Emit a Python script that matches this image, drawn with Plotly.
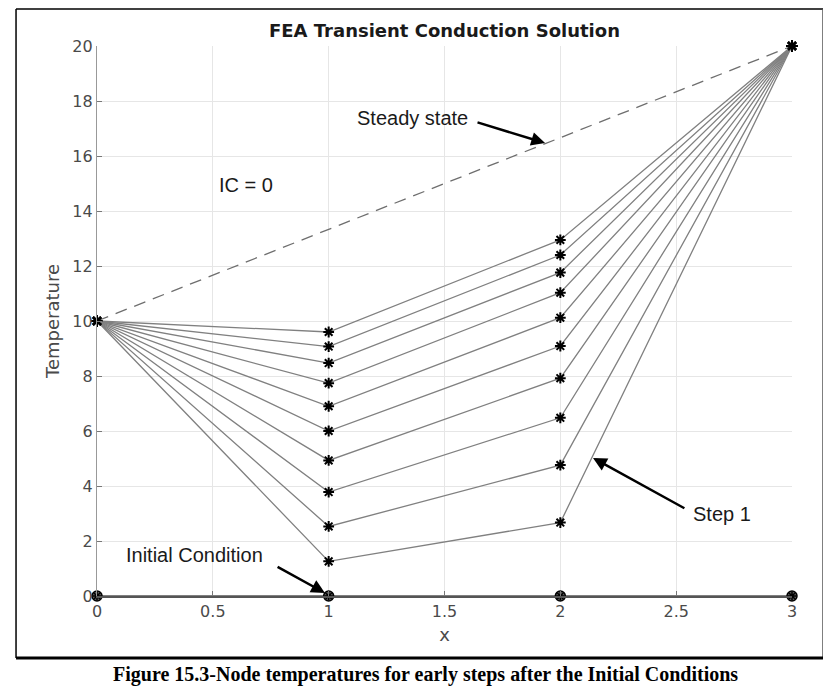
import plotly.graph_objects as go

# ---- data ----
x_nodes = [0, 1, 2, 3]
left_bc = 10
right_bc = 20
node1_steps = [1.26, 2.53, 3.78, 4.93, 6.0, 6.9, 7.74, 8.47, 9.07, 9.6]
node2_steps = [2.67, 4.76, 6.48, 7.92, 9.09, 10.12, 11.03, 11.76, 12.4, 12.95]
initial_condition = [0, 0, 0, 0]
steady_state = [10, 20]
steady_x = [0, 3]
x_ticks = [0, 0.5, 1, 1.5, 2, 2.5, 3]
x_tick_labels = ["0", "0.5", "1", "1.5", "2", "2.5", "3"]
y_ticks = [0, 2, 4, 6, 8, 10, 12, 14, 16, 18, 20]

fig = go.Figure()

# steady state dashed
fig.add_trace(go.Scatter(x=steady_x, y=steady_state, mode="lines",
                         line=dict(color="#6e6e6e", width=1.3, dash="12px,8px"),
                         showlegend=False, hoverinfo="skip", cliponaxis=False))

# steps
for a, b in zip(node1_steps, node2_steps):
    fig.add_trace(go.Scatter(x=x_nodes, y=[left_bc, a, b, right_bc], mode="lines+markers",
                             line=dict(color="#808080", width=1.3),
                             marker=dict(symbol="asterisk-open", size=9, color="black",
                                         line=dict(color="black", width=2)),
                             showlegend=False, cliponaxis=False))

# initial condition
fig.add_trace(go.Scatter(x=x_nodes, y=initial_condition, mode="lines+markers",
                         line=dict(color="#555555", width=1.5),
                         marker=dict(symbol="circle", size=10, color="#5a5a5a",
                                     line=dict(color="black", width=1.5)),
                         showlegend=False, cliponaxis=False))
fig.add_trace(go.Scatter(x=x_nodes, y=initial_condition, mode="markers",
                         marker=dict(symbol="asterisk-open", size=7, color="black",
                                     line=dict(color="black", width=1.5)),
                         showlegend=False, cliponaxis=False))

ann_font = dict(family="Liberation Sans, Arial", size=20, color="#1a1a1a")
annotations = [
    dict(x=1.36, y=17.38, text="Steady state", showarrow=False, font=ann_font),
    dict(x=0.643, y=14.95, text="IC = 0", showarrow=False, font=ann_font),
    dict(x=0.419, y=1.49, text="Initial Condition", showarrow=False, font=ann_font),
    dict(x=2.698, y=2.98, text="Step 1", showarrow=False, font=ann_font),
]
arrows = [((1.934, 16.47), (1.636, 17.24)),
          ((0.984, 0.11), (0.773, 1.09)),
          ((2.141, 5.02), (2.542, 3.16))]
for (hx, hy), (tx, ty) in arrows:
    annotations.append(dict(x=hx, y=hy, ax=tx, ay=ty, xref="x", yref="y",
                            axref="x", ayref="y", text="", showarrow=True,
                            arrowhead=2, arrowsize=1.1, arrowwidth=2.5,
                            arrowcolor="black"))

annotations.append(dict(x=0.472, y=-0.1436, xref="paper", yref="paper",
                        xanchor="center", yanchor="middle",
                        text="<b>Figure 15.3-Node temperatures for early steps after the Initial Conditions</b>",
                        showarrow=False,
                        font=dict(family="Liberation Serif, Times New Roman", size=20, color="black")))

X0, X1 = -0.1165, 1.0446
Y0, Y1 = -0.1127, 1.0673
shapes = [
    dict(type="line", xref="paper", yref="paper", x0=X0, x1=X0, y0=Y0, y1=Y1,
         line=dict(color="black", width=1.5)),
    dict(type="line", xref="paper", yref="paper", x0=X0, x1=X1, y0=Y1, y1=Y1,
         line=dict(color="black", width=1.5)),
    dict(type="line", xref="paper", yref="paper", x0=X1, x1=X1, y0=Y0, y1=Y1,
         line=dict(color="#555555", width=1.5)),
    dict(type="line", xref="paper", yref="paper", x0=X0, x1=X1, y0=Y0, y1=Y0,
         line=dict(color="black", width=3)),
]

axis_font = dict(family="DejaVu Sans", size=16, color="#4a4a4a")
fig.update_layout(
    width=823, height=682,
    margin=dict(l=89, r=39, t=38, b=94),
    paper_bgcolor="white", plot_bgcolor="white",
    title=dict(text="<b>FEA Transient Conduction Solution</b>", x=0.5, xref="paper",
               y=1 - 23 / 682, yanchor="middle",
               font=dict(family="DejaVu Sans", size=18, color="#1a1a1a")),
    xaxis=dict(range=[0, 3], tickvals=x_ticks, ticktext=x_tick_labels,
               showgrid=True, gridcolor="#e6e6e6", gridwidth=1,
               zeroline=False, showline=True, linecolor="#555555", linewidth=1.5,
               ticks="inside", ticklen=5, tickcolor="#777777",
               tickfont=axis_font,
               title=dict(text="x", font=dict(family="DejaVu Sans", size=18, color="#4a4a4a"),
                          standoff=8)),
    yaxis=dict(range=[0, 20], tickvals=y_ticks,
               showgrid=True, gridcolor="#e6e6e6", gridwidth=1,
               zeroline=False, showline=True, linecolor="#999999", linewidth=1.2,
               ticks="inside", ticklen=5, tickcolor="#777777",
               tickfont=axis_font,
               title=dict(text="Temperature", font=dict(family="DejaVu Sans", size=18, color="#4a4a4a"),
                          standoff=8)),
    annotations=annotations,
    shapes=shapes,
)

fig.write_html("out.html")
